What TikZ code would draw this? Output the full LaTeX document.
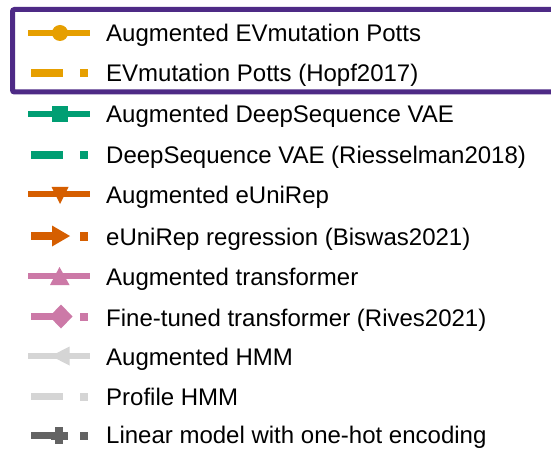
\documentclass[tikz,border=0pt]{standalone}
\usepackage{fontspec}
\setmainfont{Liberation Sans}
\definecolor{cOrange}{HTML}{E69F00}
\definecolor{cGreen}{HTML}{009E73}
\definecolor{cVerm}{HTML}{D55E00}
\definecolor{cPink}{HTML}{CC79A7}
\definecolor{cLight}{HTML}{D5D5D5}
\definecolor{cDark}{HTML}{636363}
\definecolor{cPurple}{HTML}{4E2A86}
\begin{document}
\begin{tikzpicture}[x=1pt,y=-1pt,
  solidline/.style={line width=5.5pt},
  dashbar/.style={line width=7.5pt},
  label/.style={anchor=base west,inner sep=0pt,font=\fontsize{24}{28}\selectfont}]
\useasboundingbox (0,0) rectangle (551,449);
\clip (0,0) rectangle (551,449);
\fill[white] (0,0) rectangle (551,449);

% highlight frame round the first two entries
\draw[cPurple,line width=5pt,rounded corners=2pt] (12.5,9.5) rectangle (570,92);

% 1: augmented Potts, solid with circle
\draw[cOrange,solidline] (28,33) -- (90,33);
\fill[cOrange] (60,33) circle (8);
\node[label] (t1) at (106,42) {Augmented EVmutation Potts};

% 2: Potts, dashed with square
\draw[cOrange,dashbar] (31,73) -- (63,73);
\fill[cOrange] (79.5,69) rectangle (88,77.5);
\node[label] (t2) at (106,82) {EVmutation Potts (Hopf2017)};

% 3: augmented VAE, solid with square
\draw[cGreen,solidline] (28,114) -- (90,114);
\fill[cGreen] (52,106) rectangle (68,122.5);
\node[label] (t3) at (106,123) {Augmented DeepSequence VAE};

% 4: VAE, dashed
\draw[cGreen,dashbar] (31,155) -- (63,155);
\fill[cGreen] (79.5,151) rectangle (88,159.5);
\node[label] (t4) at (106,164) {DeepSequence VAE (Riesselman2018)};

% 5: augmented eUniRep, solid with triangle down
\draw[cVerm,solidline] (28,194) -- (90,194);
\fill[cVerm] (51.5,187) -- (68.5,187) -- (60,204) -- cycle;
\node[label] (t5) at (106,204) {Augmented eUniRep};

% 6: eUniRep regression, dashed with triangle right
\draw[cVerm,dashbar] (31,236) -- (58,236);
\fill[cVerm] (52,225.5) -- (70,236) -- (52,246.5) -- cycle;
\fill[cVerm] (79.5,232) rectangle (88,240.5);
\node[label] (t6) at (106,245) {eUniRep regression (Biswas2021)};

% 7: augmented transformer, solid with triangle up
\draw[cPink,solidline] (28,276) -- (90,276);
\fill[cPink] (50,285) -- (69.5,285) -- (59.5,267) -- cycle;
\node[label] (t7) at (106,285) {Augmented transformer};

% 8: fine-tuned transformer, dashed with diamond
\draw[cPink,dashbar] (31,316.5) -- (56,316.5);
\fill[cPink] (61,304.5) -- (72.5,316.5) -- (61,328.5) -- (49.5,316.5) -- cycle;
\fill[cPink] (79.5,312.5) rectangle (88,321);
\node[label] (t8) at (106,326) {Fine-tuned transformer (Rives2021)};

% 9: augmented HMM, solid with triangle left
\draw[cLight,solidline] (28,356) -- (90,356);
\fill[cLight] (69.5,346.5) -- (69.5,365.5) -- (51,356) -- cycle;
\node[label] (t9) at (106,365.5) {Augmented HMM};

% 10: profile HMM, dashed
\draw[cLight,dashbar] (31,396.5) -- (63,396.5);
\fill[cLight] (79.5,392.5) rectangle (88,401);
\node[label] (t10) at (106,405.5) {Profile HMM};

% 11: linear model, dashed with filled plus
\draw[cDark,dashbar] (31,435.5) -- (58,435.5);
\fill[cDark] (55,427) rectangle (63,444);
\fill[cDark] (50.5,431.5) rectangle (67.5,439.5);
\fill[cDark] (79.5,431.5) rectangle (88,440);
\node[label] (t11) at (106,443.5) {Linear model with one-hot encoding};
\end{tikzpicture}
\end{document}
